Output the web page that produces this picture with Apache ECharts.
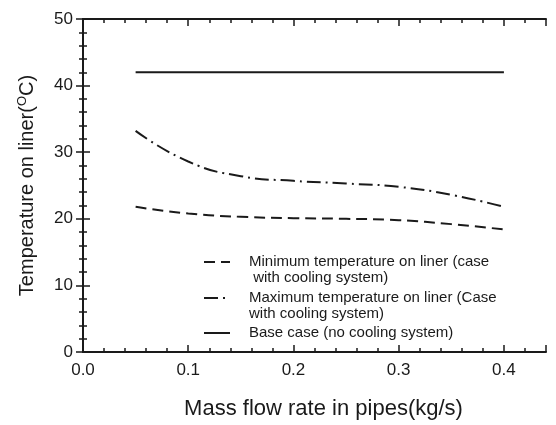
<!DOCTYPE html>
<html>
<head>
<meta charset="utf-8">
<script src="https://cdn.jsdelivr.net/npm/echarts@6/dist/echarts.min.js"></script>
<style>
  html, body { margin: 0; padding: 0; background: #fff; }
  #chart { width: 556px; height: 425px; }
</style>
</head>
<body>
<div id="chart"></div>
<script>
// ---- data ----
const flowRate = [0.05, 0.1, 0.15, 0.2, 0.25, 0.3, 0.35, 0.4]
const minTemp  = [21.8, 20.8, 20.3, 20.1, 20.0, 19.8, 19.2, 18.4]
const maxTemp  = [33.2, 28.6, 26.4, 25.7, 25.3, 24.8, 23.6, 21.8]
const baseTemp = [42, 42, 42, 42, 42, 42, 42, 42]

const seriesNames = [
  'Minimum temperature on liner (case with cooling system)',
  'Maximum temperature on liner (Case with cooling system)',
  'Base case (no cooling system)',
]
// blank first line keeps the icon level with the first text line
const legendLabels = [
  ' \nMinimum temperature on liner (case\n with cooling system)',
  ' \nMaximum temperature on liner (Case\nwith cooling system)',
  'Base case (no cooling system)',
]
const xTicks = [0, 0.1, 0.2, 0.3, 0.4]

const FONT = '"Liberation Sans", Arial, Helvetica, sans-serif'
const INK = '#1a1a1a'

const pairs = (ys) => flowRate.map((x, i) => [x, ys[i]])

// one axis per side for long ticks, one overlaid for the short ones
function xAx(pos, step, tickLen, withLabels) {
  return {
    type: 'value', position: pos, min: 0, max: 0.44, interval: step,
    axisLine: { show: tickLen > 5, lineStyle: { color: INK, width: 2 } },
    axisTick: { show: true, inside: true, length: tickLen, lineStyle: { color: INK, width: 1.5 } },
    axisLabel: withLabels ? {
      show: true, fontFamily: FONT, fontSize: 17, color: INK, margin: 10,
      formatter: v => xTicks.some(t => Math.abs(t - v) < 1e-6) ? v.toFixed(1) : '',
    } : { show: false },
    splitLine: { show: false },
  }
}
function yAx(pos, tickLen, withLabels) {
  return {
    type: 'value', position: pos, min: 0, max: 50, interval: 10,
    axisLine: { show: true, lineStyle: { color: INK, width: 2 } },
    axisTick: { show: true, inside: true, length: tickLen, lineStyle: { color: INK, width: 1.5 } },
    minorTick: { show: true, splitNumber: 5, length: 4, lineStyle: { color: INK, width: 1.5 } },
    axisLabel: withLabels ? { show: true, fontFamily: FONT, fontSize: 17, color: INK, margin: 10 } : { show: false },
    splitLine: { show: false },
  }
}

const xMain = xAx('bottom', 0.1, 7, true)
xMain.name = 'Mass flow rate in pipes(kg/s)'
xMain.nameLocation = 'middle'
xMain.nameGap = 46
xMain.nameTextStyle = { fontFamily: FONT, fontSize: 22, color: INK, padding: [0, 0, 0, 18] }

const yMain = yAx('left', 7, true)
yMain.name = 'Temperature on liner({s|O}C)'
yMain.nameLocation = 'middle'
yMain.nameGap = 45
yMain.nameTextStyle = {
  fontFamily: FONT, fontSize: 20, color: INK,
  rich: { s: { fontFamily: FONT, fontSize: 13, color: INK, verticalAlign: 'top', lineHeight: 22 } },
}

function legendFor(i, top) {
  return {
    data: [seriesNames[i]],
    orient: 'vertical', left: 198, top: top,
    itemWidth: 26, itemHeight: 14,
    itemStyle: { color: 'transparent', borderWidth: 0, opacity: 0 },
    formatter: () => legendLabels[i],
    textStyle: { fontFamily: FONT, fontSize: 15, color: INK, lineHeight: 16, padding: [0, 0, 0, 14] },
  }
}

const lineStyle = (type) => ({ color: INK, width: 2, type: type })

const option = {
  animation: false,
  backgroundColor: '#fff',
  grid: { left: 83, right: 10, top: 19, bottom: 70 },
  xAxis: [
    xMain,
    xAx('bottom', 0.02, 4, false),
    xAx('top', 0.1, 7, false),
    xAx('top', 0.02, 4, false),
  ],
  yAxis: [yMain, yAx('right', 7, false)],
  legend: [
    legendFor(0, 233),
    legendFor(1, 269),
    legendFor(2, 320),
  ],
  series: [
    { name: seriesNames[0], type: 'line', smooth: true, symbol: 'none', data: pairs(minTemp),
      lineStyle: lineStyle([11, 6]), itemStyle: { color: INK } },
    { name: seriesNames[1], type: 'line', smooth: true, symbol: 'none', data: pairs(maxTemp),
      lineStyle: lineStyle([14, 5, 2, 5]), itemStyle: { color: INK } },
    { name: seriesNames[2], type: 'line', symbol: 'none', data: pairs(baseTemp),
      lineStyle: lineStyle('solid'), itemStyle: { color: INK } },
  ],
}

const chart = echarts.init(document.getElementById('chart'), null, { renderer: 'canvas' })
chart.setOption(option)
</script>
</body>
</html>
